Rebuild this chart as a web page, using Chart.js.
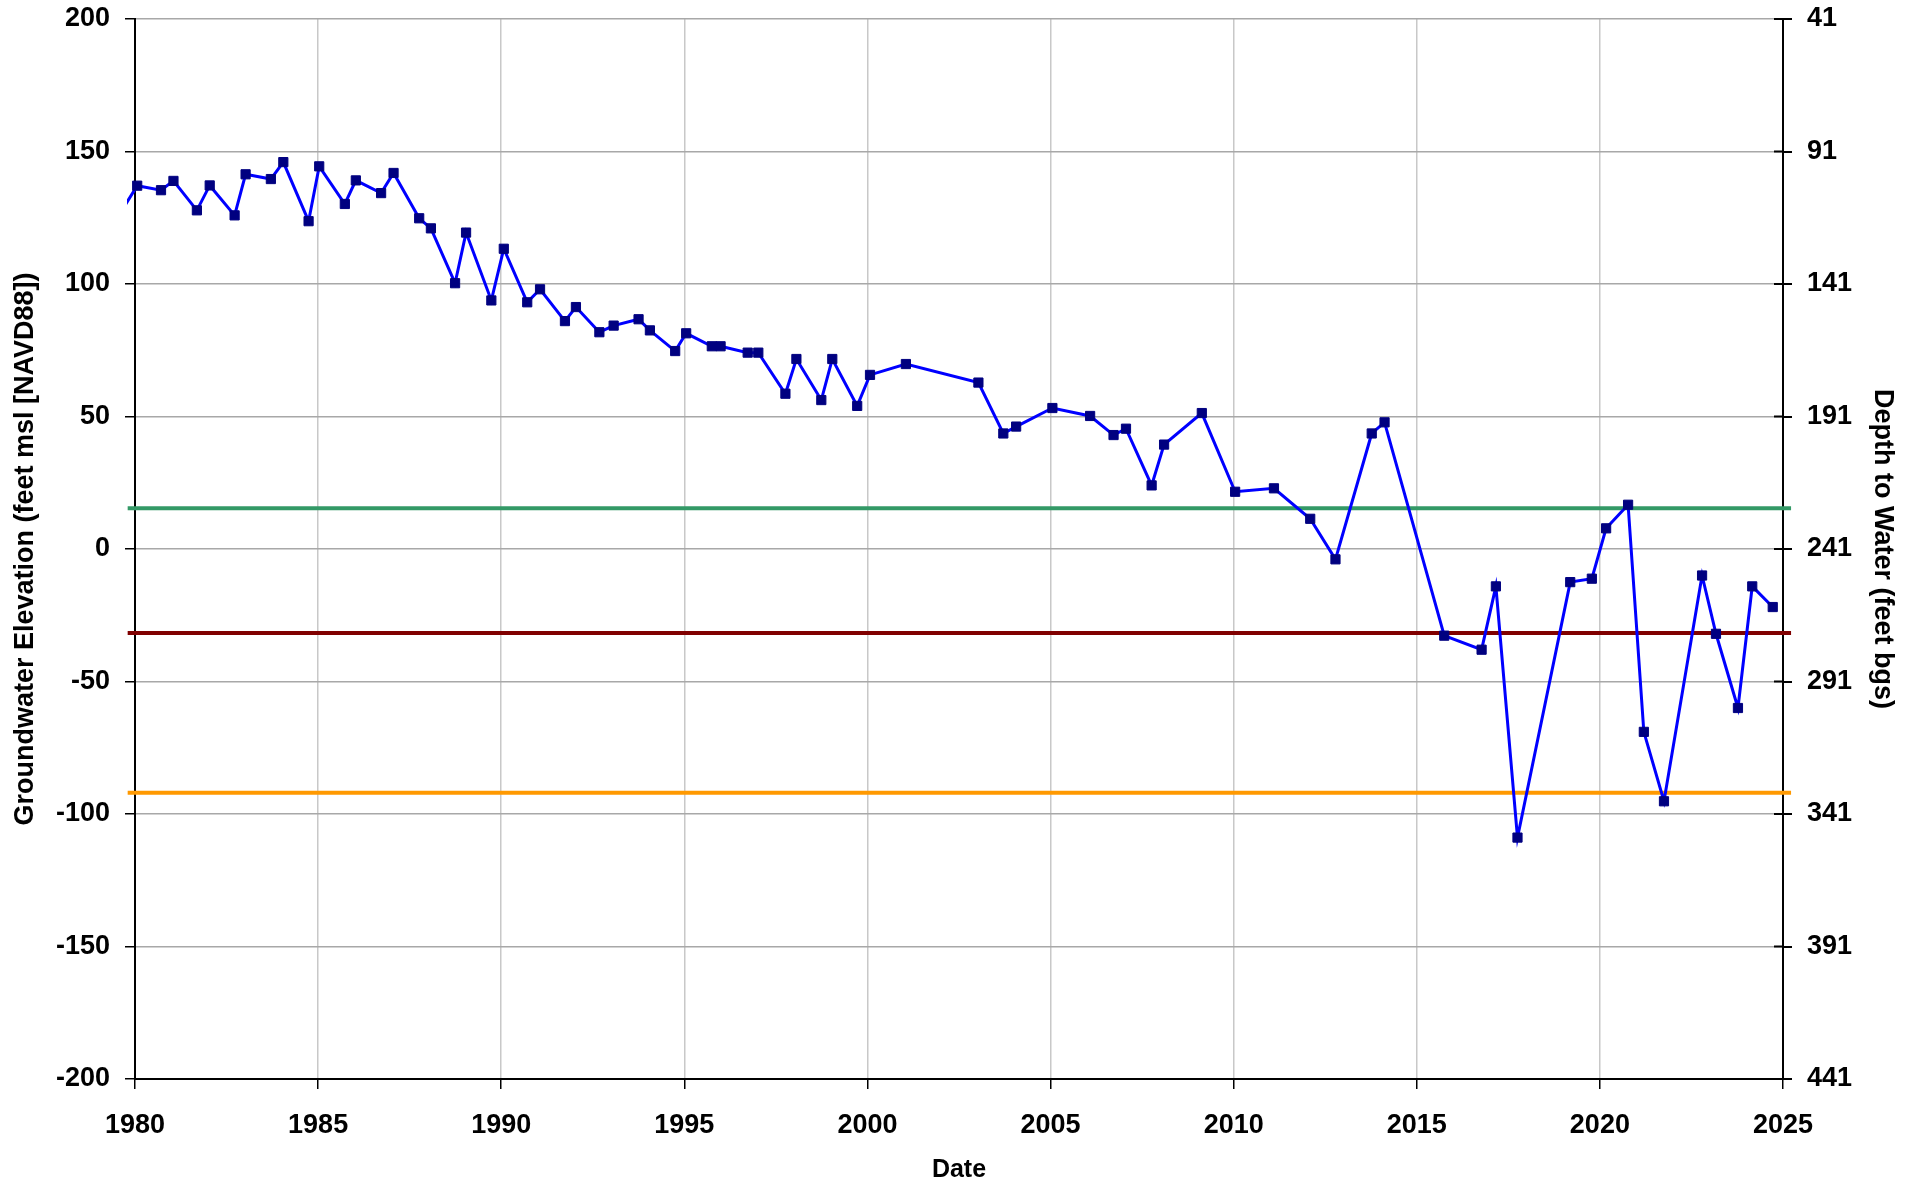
<!DOCTYPE html>
<html>
<head>
<meta charset="utf-8">
<title>Groundwater Elevation</title>
<script src="https://cdn.jsdelivr.net/npm/chart.js@4/dist/chart.umd.min.js"></script>
<style>
  html, body { margin: 0; padding: 0; background: #fff; }
  #hydro_container { position: relative; width: 1918px; height: 1185px; }
</style>
</head>
<body>
<div id="hydro_container"><canvas id="hydro_plot"></canvas></div>
<script>
// measurement dates (decimal years) and groundwater elevation (feet msl)
const dates = [1979.2, 1980.06, 1980.71, 1981.05, 1981.69, 1982.04, 1982.72, 1983.02, 1983.71, 1984.05,
  1984.74, 1985.03, 1985.73, 1986.03, 1986.72, 1987.06, 1987.76, 1988.08, 1988.74, 1989.04,
  1989.73, 1990.07, 1990.71, 1991.06, 1991.74, 1992.04, 1992.68, 1993.07, 1993.75, 1994.06,
  1994.75, 1995.05, 1995.75, 1995.99, 1996.73, 1997.02, 1997.76, 1998.06, 1998.74, 1999.04,
  1999.72, 2000.07, 2001.05, 2003.03, 2003.71, 2004.06, 2005.05, 2006.08, 2006.72, 2007.06,
  2007.76, 2008.10, 2009.13, 2010.04, 2011.10, 2012.09, 2012.78, 2013.77, 2014.12, 2015.75,
  2016.77, 2017.16, 2017.75, 2019.19, 2019.78, 2020.17, 2020.77, 2021.20, 2021.75, 2022.79,
  2023.17, 2023.77, 2024.16, 2024.72];
const elevation = [118, 137.1, 135.4, 138.9, 127.8, 137.2, 125.9, 141.4, 139.6, 146,
  123.7, 144.4, 130.2, 139.1, 134.3, 141.9, 124.8, 121, 100.3, 119.4,
  93.8, 113.3, 93.1, 98, 86, 91.3, 81.8, 84.3, 86.7, 82.5,
  74.7, 81.4, 76.5, 76.5, 74.1, 74.1, 58.6, 71.7, 56.2, 71.7,
  54, 65.7, 69.8, 62.8, 43.6, 46.2, 53.2, 50.2, 43, 45.4,
  24, 39.4, 51.3, 21.6, 22.9, 11.4, -3.9, 43.6, 47.8, -32.7,
  -38, -14.1, -108.9, -12.5, -11.2, 7.8, 16.7, -69, -95.2, -10,
  -32, -60, -14.1, -21.9];

// horizontal threshold lines
const thresholdNames = ['green', 'red', 'orange'];
const thresholdLevels = [15.4, -31.7, -92];
const thresholdColors = ['#339966', '#800000', '#FF9900'];
const thresholdSpan = [1979.8, 2025.22];

// axis ticks
const yearTicks = [1980, 1985, 1990, 1995, 2000, 2005, 2010, 2015, 2020, 2025];
const elevTicks = [-200, -150, -100, -50, 0, 50, 100, 150, 200];
const depthTicks = [41, 91, 141, 191, 241, 291, 341, 391, 441];

const FONT = "'Liberation Sans', Arial, Helvetica, sans-serif";
Chart.defaults.font.family = FONT;
Chart.defaults.color = '#000';

// right axis ticks cross the axis line
const crossTicks = {
  id: 'crossTicks',
  afterDraw(chart) {
    const s = chart.scales.y2;
    const c = chart.ctx;
    c.save();
    c.strokeStyle = '#000';
    c.lineWidth = 2;
    s.ticks.forEach(t => {
      const y = s.getPixelForValue(t.value);
      c.beginPath();
      c.moveTo(s.left - 9, y);
      c.lineTo(s.left, y);
      c.stroke();
    });
    c.restore();
  }
};

// fixed box size, no extra room for the end labels
function fitVertical(s) {
  s.width = 135;
  s.paddingTop = 0;
  s.paddingBottom = 0;
}

function plotHydrograph() {
  let datasets = [];
  for (let i = 0; i < thresholdLevels.length; i++) {
    datasets.push({
      label: thresholdNames[i],
      data: thresholdSpan.map(x => ({x: x, y: thresholdLevels[i]})),
      borderColor: thresholdColors[i],
      borderWidth: 4,
      pointRadius: 0,
      fill: false,
      clip: {left: 8, right: 9, top: 0, bottom: 0},
      order: 2
    });
  }
  datasets.push({
    label: 'Groundwater Elevation',
    data: dates.map((d, i) => ({x: d, y: elevation[i]})),
    borderColor: '#0000FF',
    borderWidth: 3,
    pointStyle: 'rect',
    pointRadius: 6.5,
    pointBackgroundColor: '#000080',
    pointBorderColor: '#000080',
    pointBorderWidth: 1,
    fill: false,
    tension: 0,
    clip: {left: 8, right: 9, top: 0, bottom: 0},
    order: 1
  });

  let ctx = document.getElementById('hydro_plot');
  window.hydro_plot = new Chart(ctx, {
    type: 'line',
    data: { datasets: datasets },
    plugins: [crossTicks],
    options: {
      responsive: true,
      maintainAspectRatio: false,
      animation: false,
      layout: { padding: { top: 19, left: 0, right: 0, bottom: 0 } },
      plugins: {
        legend: { display: false },
        tooltip: { enabled: false }
      },
      scales: {
        x: {
          type: 'linear',
          position: 'bottom',
          min: 1980,
          max: 2025,
          afterBuildTicks: s => { s.ticks = yearTicks.map(v => ({value: v})); },
          afterFit: s => { s.height = 106; },
          ticks: {
            font: { size: 27, weight: 'bold' },
            color: '#000',
            padding: 20,
            maxRotation: 0,
            callback: v => String(v)
          },
          grid: { color: '#c8c8c8', lineWidth: 1.5, tickColor: '#000', tickLength: 10 },
          border: { color: '#000', width: 2 },
          title: {
            display: true,
            text: 'Date',
            font: { size: 25, weight: 'bold' },
            color: '#000',
            padding: { top: 0, bottom: 0 }
          }
        },
        y: {
          position: 'left',
          min: -200,
          max: 200,
          afterBuildTicks: s => { s.ticks = elevTicks.map(v => ({value: v})); },
          afterFit: fitVertical,
          ticks: {
            font: { size: 27, weight: 'bold' },
            color: '#000',
            padding: 15,
            callback: v => String(v)
          },
          grid: { color: '#a8a8a8', lineWidth: 1.5, tickColor: '#000', tickLength: 10 },
          border: { color: '#000', width: 2 },
          title: {
            display: true,
            text: 'Groundwater Elevation (feet msl [NAVD88])',
            font: { size: 27, weight: 'bold' },
            color: '#000',
            padding: { top: 9, bottom: 0 }
          }
        },
        y2: {
          position: 'right',
          min: 41,
          max: 441,
          reverse: true,
          afterBuildTicks: s => { s.ticks = depthTicks.map(v => ({value: v})); },
          afterFit: fitVertical,
          ticks: {
            font: { size: 27, weight: 'bold' },
            color: '#000',
            padding: 15,
            callback: v => String(v)
          },
          grid: { drawOnChartArea: false, tickColor: '#000', tickLength: 9, lineWidth: 2 },
          border: { color: '#000', width: 2 },
          title: {
            display: true,
            text: 'Depth to Water (feet bgs)',
            font: { size: 27, weight: 'bold' },
            color: '#000',
            padding: { top: 19, bottom: 0 }
          }
        }
      }
    }
  });
}

plotHydrograph();
</script>
</body>
</html>
